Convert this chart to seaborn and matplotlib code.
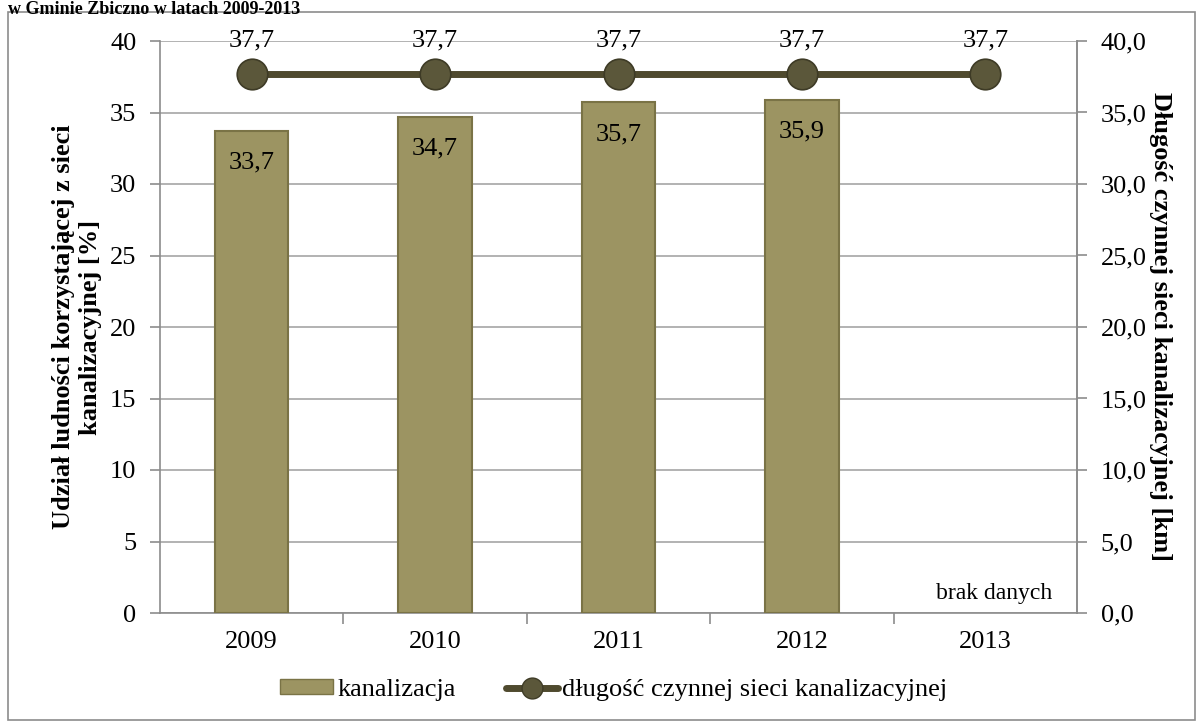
import matplotlib.pyplot as plt
import seaborn as sns
import pandas as pd
import numpy as np
from matplotlib.patches import Rectangle, Patch
from matplotlib.lines import Line2D

years = ['2009', '2010', '2011', '2012', '2013']
share_pct = [33.7, 34.7, 35.7, 35.9, np.nan]   # 2013: brak danych
length_km = [37.7, 37.7, 37.7, 37.7, 37.7]

df = pd.DataFrame({'rok': years, 'udzial': share_pct, 'dlugosc': length_km})

sns.set_theme(style='white')
plt.rcParams['font.family'] = ['Liberation Serif', 'DejaVu Serif']
plt.rcParams['text.color'] = 'black'
plt.rcParams['axes.labelcolor'] = 'black'
plt.rcParams['xtick.labelcolor'] = 'black'
plt.rcParams['ytick.labelcolor'] = 'black'

bar_color = '#9c9462'
bar_edge = '#7a7346'
line_color = '#4f4a2e'
grid_color = '#a6a6a6'
fs = 19

fig = plt.figure(figsize=(12.03, 7.28), dpi=100)
ax = fig.add_axes([160 / 1203, 1 - 613 / 728, (1077 - 160) / 1203, (613 - 41) / 728])

# outer frame of the chart area
fig.patches.append(Rectangle((8 / 1203, 1 - 720 / 728), 1187 / 1203, 708 / 728,
                             transform=fig.transFigure, fill=False,
                             edgecolor='#8c8c8c', linewidth=1.2))

fig.text(8 / 1203, 1 - 1 / 728, 'w Gminie Zbiczno w latach 2009-2013',
         fontsize=13, fontweight='bold', ha='left', va='top')

sns.barplot(data=df, x='rok', y='udzial', color=bar_color, width=0.4,
            saturation=1, edgecolor=bar_edge, linewidth=1.5, ax=ax, zorder=3)

ax.set_xlim(-0.5, len(years) - 0.5)
ax.set_ylim(0, 40)
ax.set_yticks(np.arange(0, 41, 5))
ax.yaxis.grid(True, color=grid_color, linewidth=1.2)
ax.set_axisbelow(True)
ax.set_xlabel('')
ax.set_ylabel('Udział ludności korzystającej z sieci\nkanalizacyjnej [%]',
              fontsize=fs, fontweight='bold', labelpad=6)

ax.spines['top'].set_visible(False)
for s in ['left', 'bottom', 'right']:
    ax.spines[s].set_color('#8c8c8c')
    ax.spines[s].set_linewidth(1.2)

ax.tick_params(axis='x', which='major', length=0, pad=13, labelsize=fs)
ax.set_xticks(np.arange(0.5, len(years) - 0.5), minor=True)
ax.tick_params(axis='x', which='minor', bottom=True, length=8, width=1.2,
               color='#8c8c8c', direction='out')
ax.tick_params(axis='y', left=True, length=7, width=1.2, color='#8c8c8c',
               labelsize=fs, pad=10)

for i, v in enumerate(share_pct):
    if not np.isnan(v):
        ax.annotate(f'{v:.1f}'.replace('.', ','), (i, v), xytext=(0, -15),
                    textcoords='offset points', ha='center', va='top',
                    fontsize=fs, zorder=5)

ax.text(len(years) - 0.636, 0.6, 'brak danych', ha='right', va='bottom', fontsize=17)

ax2 = ax.twinx()
sns.lineplot(x=np.arange(len(years)), y=df['dlugosc'], ax=ax2, color=line_color,
             linewidth=5, marker='o', markersize=22, markerfacecolor='#5b573a',
             markeredgecolor='#3e3b26', markeredgewidth=1.2, zorder=4)
ax2.set_ylim(0, 40)
ax2.set_yticks(np.arange(0, 41, 5))
ax2.set_yticklabels([f'{t:.1f}'.replace('.', ',') for t in np.arange(0, 41, 5)])
ax2.set_ylabel('Długość czynnej sieci kanalizacyjnej [km]', fontsize=fs,
               fontweight='bold', rotation=-90, labelpad=18)
ax2.tick_params(axis='y', right=True, length=7, width=1.2, color='#8c8c8c',
                labelsize=fs, pad=10)
for s in ['top', 'left', 'bottom']:
    ax2.spines[s].set_visible(False)
ax2.spines['right'].set_color('#8c8c8c')
ax2.spines['right'].set_linewidth(1.2)
ax2.grid(False)

for i, v in enumerate(length_km):
    ax2.annotate(f'{v:.1f}'.replace('.', ','), (i, v), xytext=(0, 24),
                 textcoords='offset points', ha='center', va='center', fontsize=fs)

handles = [
    Patch(facecolor=bar_color, edgecolor=bar_edge, label='kanalizacja'),
    Line2D([0], [0], color=line_color, linewidth=5, marker='o', markersize=15,
           markerfacecolor='#5b573a', markeredgecolor='#3e3b26',
           label='długość czynnej sieci kanalizacyjnej'),
]
fig.legend(handles=handles, loc='center', bbox_to_anchor=(614 / 1203, 1 - 690 / 728),
           ncol=2, frameon=False, fontsize=fs, handlelength=2.0, handleheight=0.5,
           handletextpad=0.15, columnspacing=1.9)

fig.savefig('out.png', dpi=100)
